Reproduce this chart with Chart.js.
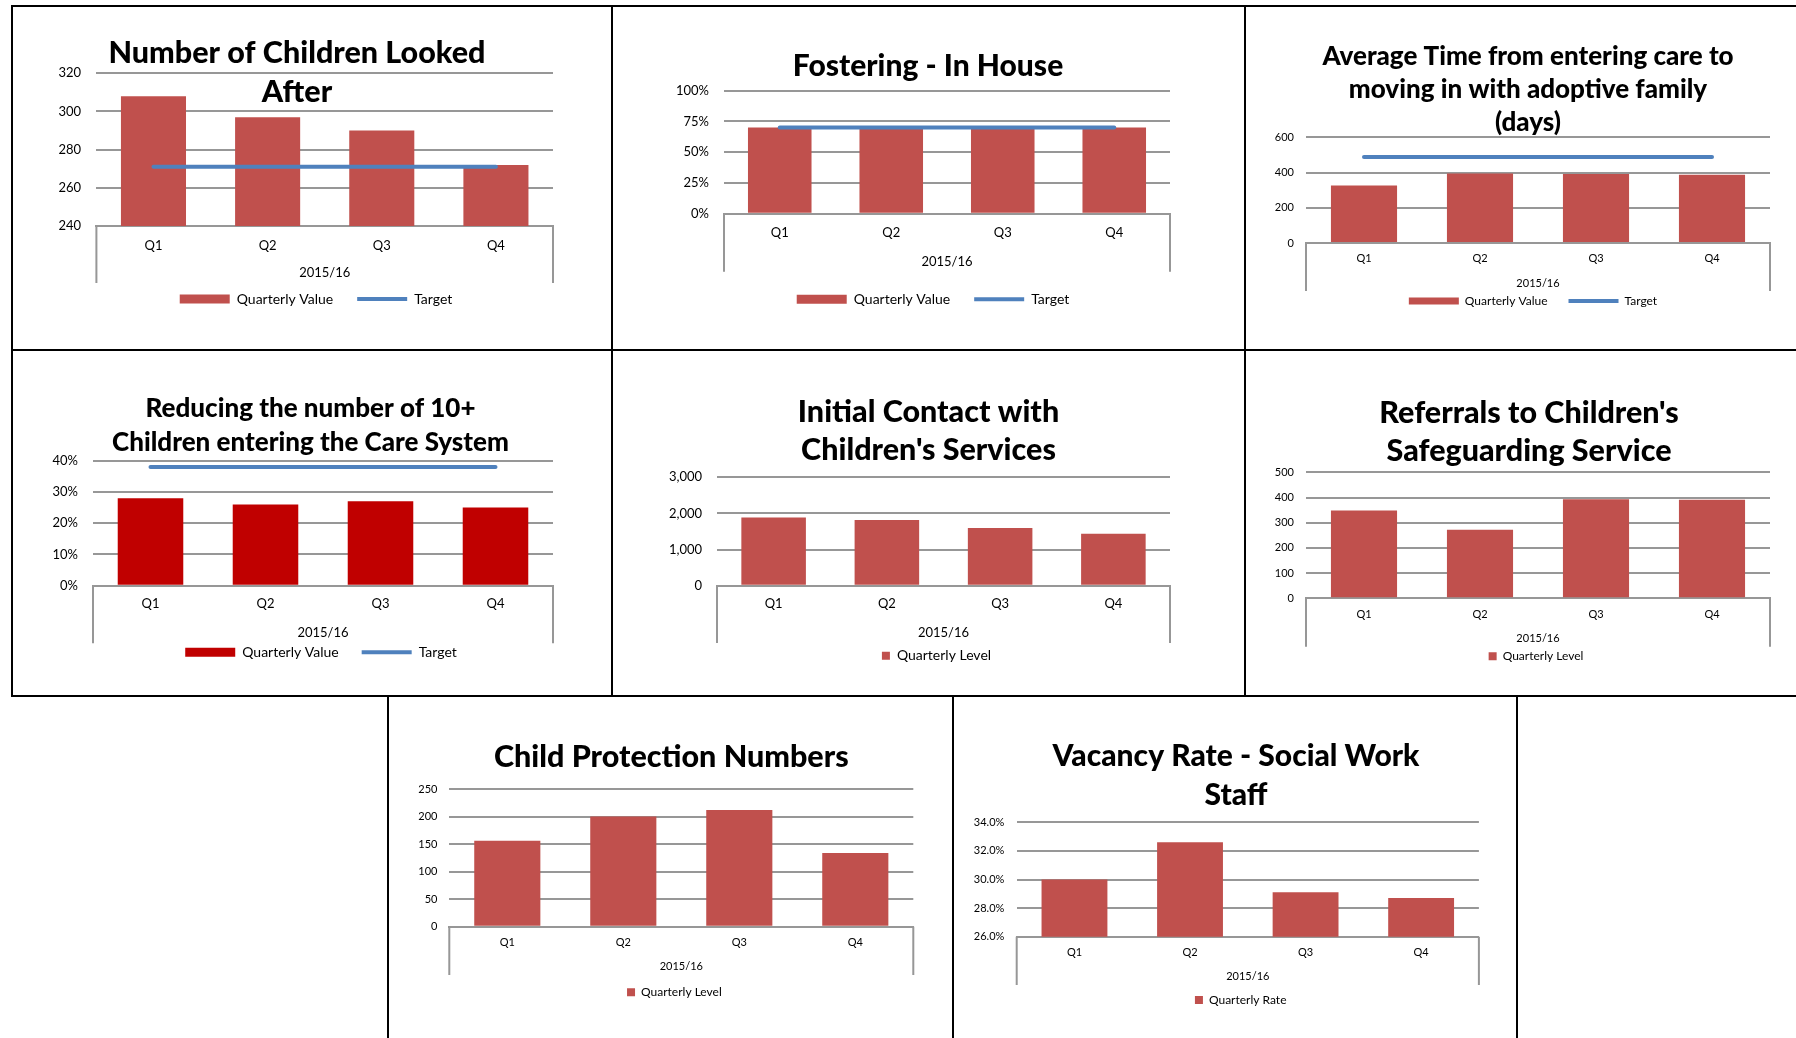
<!DOCTYPE html>
<html>
<head>
<meta charset="utf-8">
<title>Children's Services 2015/16</title>
<script src="https://cdn.jsdelivr.net/npm/chart.js@4.4.1/dist/chart.umd.min.js"></script>
<style>
  html, body { margin: 0; padding: 0; background: #fff; }
  #page { position: relative; width: 1796px; height: 1038px; overflow: hidden; background: #fff; }
  .rule { position: absolute; background: #000; }
  #page canvas { position: absolute; }
</style>
</head>
<body>
<div id="page"></div>
<script>
// ---- data ----
var quarters = ['Q1', 'Q2', 'Q3', 'Q4'];
var yearLabel = '2015/16';

var lookedAfter       = [308, 297, 290, 272];
var lookedAfterTarget = [271, 271, 271, 271];
var lookedAfterTicks  = [240, 320, 20];      // min, max, step

var fostering         = [70, 70, 70, 70];
var fosteringTarget   = [70, 70, 70, 70];
var fosteringTicks    = [0, 100, 25];

var adoptionDays      = [326, 394, 392, 387];
var adoptionTarget    = [488, 488, 488, 488];
var adoptionTicks     = [0, 600, 200];

var over10s           = [28, 26, 27, 25];
var over10sTarget     = [38, 38, 38, 38];
var over10sTicks      = [0, 40, 10];

var contacts          = [1890, 1820, 1600, 1440];
var contactsTicks     = [0, 3000, 1000];

var referrals         = [348, 272, 393, 391];
var referralsTicks    = [0, 500, 100];

var protection        = [156, 200, 212, 134];
var protectionTicks   = [0, 250, 50];

var vacancy           = [30.0, 32.6, 29.1, 28.7];
var vacancyTicks      = [26, 34, 2];

// ---- styles ----
var RED = '#C0504D', DARKRED = '#C00000', BLUE = '#4F81BD', GRID = '#979797';
var FONT = 'Lato';

var page = document.getElementById('page');

// table rules of the report page: [x, y, w, h]
var rules = [
  [11, 5, 1785, 2], [11, 349, 1785, 2], [11, 695, 1785, 2],
  [11, 5, 2, 692], [611, 5, 2, 692], [1244, 5, 2, 692],
  [387, 695, 2, 343], [952, 695, 2, 343], [1516, 695, 2, 343]
];
rules.forEach(function (r) {
  var d = document.createElement('div');
  d.className = 'rule';
  d.style.left = r[0] + 'px'; d.style.top = r[1] + 'px';
  d.style.width = r[2] + 'px'; d.style.height = r[3] + 'px';
  page.appendChild(d);
});

function plain(v) { return v; }
function pct(v) { return v + '%'; }
function pct1(v) { return v.toFixed(1) + '%'; }
function comma(v) { return v.toLocaleString('en-US'); }

// multi-level category box (lines at both ends of the x axis)
var groupBox = {
  id: 'groupBox',
  afterDraw: function (chart) {
    var sc = chart.scales.x, ctx = chart.ctx;
    ctx.save();
    ctx.strokeStyle = GRID;
    ctx.lineWidth = 2;
    ctx.beginPath();
    ctx.moveTo(sc.left, sc.top); ctx.lineTo(sc.left, sc.bottom);
    ctx.moveTo(sc.right, sc.top); ctx.lineTo(sc.right, sc.bottom);
    ctx.stroke();
    ctx.restore();
  }
};

// centre title / legend where the report has them
var placeBlocks = {
  id: 'placeBlocks',
  afterLayout: function (chart, args, o) {
    var t = chart.titleBlock, lg = chart.legend, dx;
    if (t) {
      dx = o.titleX - (t.left + t.right) / 2;
      t.left += dx; t.right += dx;
    }
    if (lg) {
      dx = o.legendX - (lg.left + lg.right) / 2;
      lg.left += dx; lg.right += dx;
      var top = o.legendY - o.legendPad - o.legendSize / 2;
      lg.bottom += top - lg.top;
      lg.top = top;
    }
  }
};

// page-coordinate layout of each chart
var charts = [
  { title: ['Number of Children Looked', 'After'], tSize: 30.5, tLH: 39, tX: 297, tY: 53,
    cell: [13, 7, 611, 349], plot: [96.4, 73.3, 553, 226],
    values: lookedAfter, target: lookedAfterTarget, ticks: lookedAfterTicks, fmt: plain,
    color: RED, seriesName: 'Quarterly Value',
    ySize: 13, yLabelR: 81, xSize: 13, qY: 245.7, groupY: 273, boxB: 283,
    lSize: 14, lX: 316, lY: 299, lPad: 24, markW: 50, markH: 9 },
  { title: ['Fostering - In House'], tSize: 30, tLH: 39, tX: 928, tY: 66.7,
    cell: [613, 7, 1244, 349], plot: [724, 90.7, 1170, 213.7],
    values: fostering, target: fosteringTarget, ticks: fosteringTicks, fmt: pct,
    color: RED, seriesName: 'Quarterly Value',
    ySize: 13, yLabelR: 709, xSize: 13, qY: 233.3, groupY: 261.7, boxB: 271.7,
    lSize: 14, lX: 933, lY: 299.3, lPad: 24, markW: 50, markH: 9 },
  { title: ['Average Time from entering care to', 'moving in with adoptive family', '(days)'],
    tSize: 26, tLH: 33, tX: 1528, tY: 56.7,
    cell: [1246, 7, 1796, 349], plot: [1306, 137.3, 1770, 243],
    values: adoptionDays, target: adoptionTarget, ticks: adoptionTicks, fmt: plain,
    color: RED, seriesName: 'Quarterly Value',
    ySize: 11, yLabelR: 1294, xSize: 11, qY: 258, groupY: 283, boxB: 291,
    lSize: 12, lX: 1533, lY: 301, lPad: 21, markW: 50, markH: 7 },
  { title: ['Reducing the number of 10+', 'Children entering the Care System'],
    tSize: 26, tLH: 33.3, tX: 310.5, tY: 409,
    cell: [13, 351, 611, 695], plot: [93, 460.7, 553, 585.7],
    values: over10s, target: over10sTarget, ticks: over10sTicks, fmt: pct,
    color: DARKRED, seriesName: 'Quarterly Value',
    ySize: 13, yLabelR: 78, xSize: 13, qY: 604.3, groupY: 633.3, boxB: 643.3,
    lSize: 14, lX: 321, lY: 652.3, lPad: 23, markW: 50, markH: 9 },
  { title: ['Initial Contact with', "Children's Services"], tSize: 30.5, tLH: 38, tX: 928.5, tY: 411.7,
    cell: [613, 351, 1244, 695], plot: [717, 477.3, 1170, 585.7],
    values: contacts, ticks: contactsTicks, fmt: comma,
    color: RED, seriesName: 'Quarterly Level',
    ySize: 13, yLabelR: 702, xSize: 13, qY: 604, groupY: 633, boxB: 643,
    lSize: 14, lX: 936.5, lY: 655.7, lPad: 8, markW: 8, markH: 8 },
  { title: ["Referrals to Children's", 'Safeguarding Service'], tSize: 30.5, tLH: 38, tX: 1529, tY: 412.7,
    cell: [1246, 351, 1796, 695], plot: [1306, 472.3, 1770, 598.3],
    values: referrals, ticks: referralsTicks, fmt: plain,
    color: RED, seriesName: 'Quarterly Level',
    ySize: 11, yLabelR: 1294, xSize: 11, qY: 614.3, groupY: 638.3, boxB: 646.7,
    lSize: 12, lX: 1536, lY: 656.3, lPad: 4, markW: 8, markH: 8 },
  { title: ['Child Protection Numbers'], tSize: 30.5, tLH: 39, tX: 671.3, tY: 756.7,
    cell: [389, 697, 952, 1038], plot: [449.3, 789, 913.3, 926.7],
    values: protection, ticks: protectionTicks, fmt: plain,
    color: RED, seriesName: 'Quarterly Level',
    ySize: 11, yLabelR: 437.4, xSize: 11, qY: 942.3, groupY: 966.7, boxB: 975,
    lSize: 12, lX: 674.4, lY: 992.3, lPad: 8, markW: 8, markH: 8 },
  { title: ['Vacancy Rate - Social Work', 'Staff'], tSize: 30, tLH: 39, tX: 1236, tY: 756.7,
    cell: [954, 697, 1516, 1038], plot: [1016.7, 822.3, 1478.9, 936.7],
    values: vacancy, ticks: vacancyTicks, fmt: pct1,
    color: RED, seriesName: 'Quarterly Rate',
    ySize: 11, yLabelR: 1004.4, xSize: 11, qY: 952.3, groupY: 976, boxB: 985,
    lSize: 12, lX: 1240.7, lY: 1000, lPad: 8, markW: 8, markH: 8 }
];

function makeChart(s) {
  var x0 = s.cell[0], y0 = s.cell[1];
  var w = s.cell[2] - x0, h = s.cell[3] - y0;
  var cv = document.createElement('canvas');
  cv.width = w; cv.height = h;
  cv.style.left = x0 + 'px'; cv.style.top = y0 + 'px';
  cv.style.width = w + 'px'; cv.style.height = h + 'px';
  page.appendChild(cv);

  var L = s.plot[0], T = s.plot[1], R = s.plot[2], B = s.plot[3];
  var padTop = s.tY - s.tLH / 2 - y0;
  var padBottom = T - y0 - padTop - s.title.length * s.tLH;
  var xH = s.boxB - B;
  var legendH = s.lSize + s.lPad + 10;
  var padB = y0 + h - s.boxB - legendH;

  var datasets = [{
    type: 'bar', label: s.seriesName, data: s.values,
    backgroundColor: s.color, borderWidth: 0, pointStyle: 'rect',
    barPercentage: 0.57, categoryPercentage: 1, order: 1
  }];
  if (s.target) {
    datasets.push({
      type: 'line', label: 'Target', data: s.target,
      borderColor: BLUE, backgroundColor: BLUE, borderWidth: 4,
      borderCapStyle: 'round', pointRadius: 0, pointStyle: 'line', order: 0
    });
  }

  new Chart(cv, {
    data: { labels: quarters, datasets: datasets },
    plugins: [groupBox, placeBlocks],
    options: {
      responsive: false, animation: false, devicePixelRatio: 1,
      layout: { padding: { left: 0, right: x0 + w - R, top: 0, bottom: padB } },
      scales: {
        x: {
          offset: true,
          grid: { display: false, drawTicks: false },
          border: { display: true, color: GRID, width: 2 },
          ticks: { color: '#000', font: { family: FONT, size: s.xSize },
                   padding: s.qY - B - 0.6 * s.xSize },
          title: { display: true, text: yearLabel, color: '#000',
                   font: { family: FONT, size: s.xSize },
                   padding: { top: 0, bottom: s.boxB - s.groupY - 0.6 * s.xSize } },
          afterFit: function (sc) { sc.height = xH; }
        },
        y: {
          min: s.ticks[0], max: s.ticks[1],
          grid: { color: GRID, lineWidth: 2, drawTicks: false },
          border: { display: false },
          ticks: { stepSize: s.ticks[2], color: '#000', padding: L - s.yLabelR,
                   font: { family: FONT, size: s.ySize },
                   callback: function (v) { return s.fmt(v); } },
          afterFit: function (sc) { sc.width = L - x0; }
        }
      },
      plugins: {
        tooltip: { enabled: false },
        title: {
          display: true, text: s.title, color: '#000',
          font: { family: FONT, size: s.tSize, weight: '900', lineHeight: s.tLH + 'px' },
          padding: { top: padTop, bottom: padBottom }
        },
        legend: {
          display: true, position: 'bottom',
          labels: {
            color: '#000', font: { family: FONT, size: s.lSize },
            usePointStyle: true, pointStyleWidth: s.markW, boxHeight: s.markH,
            padding: s.lPad,
            sort: function (a, b) { return a.datasetIndex - b.datasetIndex; }
          }
        },
        placeBlocks: { titleX: s.tX - x0, legendX: s.lX - x0, legendY: s.lY - y0,
                       legendPad: s.lPad, legendSize: s.lSize }
      }
    }
  });
}

var ready = document.fonts && document.fonts.load
  ? Promise.all([document.fonts.load('900 30px Lato'), document.fonts.load('14px Lato')])
  : Promise.resolve();
ready.then(function () { charts.forEach(makeChart); }, function () { charts.forEach(makeChart); });
</script>
</body>
</html>
